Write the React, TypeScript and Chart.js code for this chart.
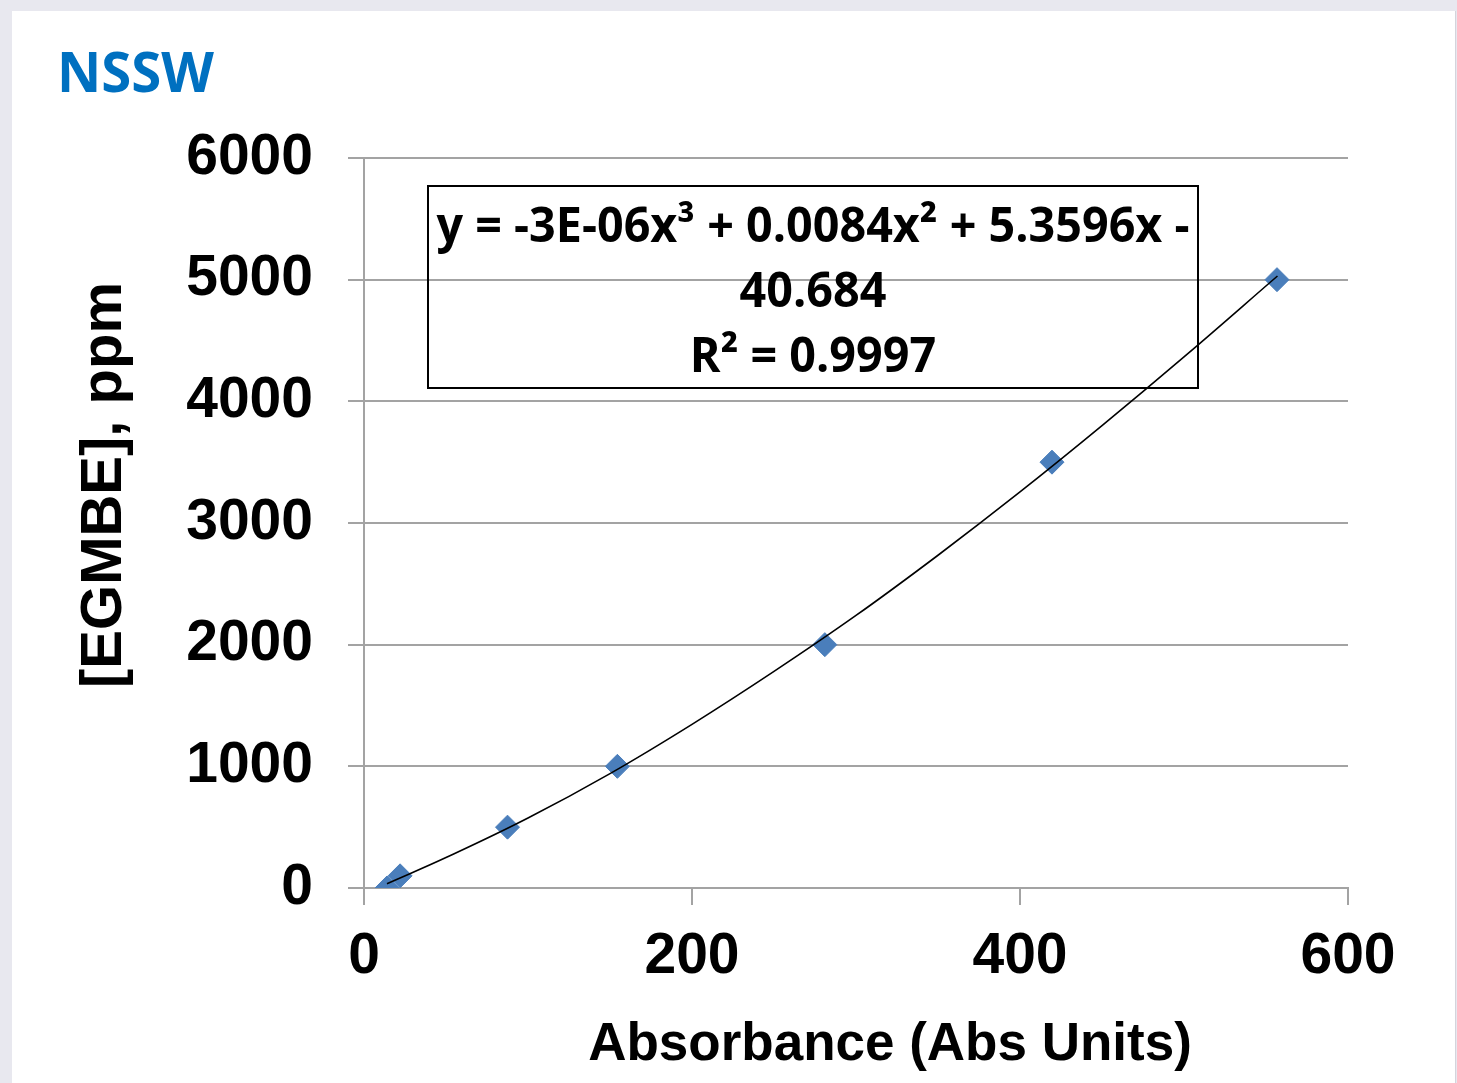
import { useEffect, useRef } from 'react';
import { Chart, registerables } from 'chart.js';

Chart.register(...registerables);

// ---- data ----
const absorbance = [14, 22, 87.5, 154.5, 281, 419.5, 556.7];
const egmbe = [0, 100, 500, 1000, 2000, 3500, 5000];
// polynomial trend line
const trendX = [14, 50, 100, 150, 200, 250, 300, 350, 400, 450, 500, 557];
const trendY = [35, 250, 575, 940, 1345, 1780, 2240, 2735, 3255, 3800, 4365, 5030];
const xTickValues = [0, 200, 400, 600];
const yTickValues = [0, 1000, 2000, 3000, 4000, 5000, 6000];
const chartTitle = 'NSSW';
const xAxisTitle = 'Absorbance (Abs Units)';
const yAxisTitle = '[EGMBE], ppm';
const equationLines = ['y = -3E-06x³ + 0.0084x² + 5.3596x -', '40.684', 'R² = 0.9997'];

const W = 1457;
const H = 1083;
const AXIS_FONT = '"Liberation Sans", Arial, sans-serif';
const CAL_FONT = '"Open Sans", "Noto Sans", sans-serif';
const GRID = '#a3a3a3';

function drawScaled(
  ctx: CanvasRenderingContext2D,
  text: string,
  x: number,
  y: number,
  sx: number,
  align: CanvasTextAlign
) {
  ctx.save();
  ctx.translate(x, y);
  ctx.scale(sx, 1);
  ctx.textAlign = align;
  ctx.textBaseline = 'alphabetic';
  ctx.fillText(text, 0, 0);
  ctx.restore();
}

const overlayPlugin = {
  id: 'overlay',
  afterDraw(chart: any) {
    const ctx: CanvasRenderingContext2D = chart.ctx;
    ctx.save();

    // Title
    ctx.fillStyle = '#0070c0';
    ctx.font = `bold 55px ${CAL_FONT}`;
    const tw = ctx.measureText(chartTitle).width;
    drawScaled(ctx, chartTitle, 57, 92, 157 / tw, 'left');

    // Axis titles
    ctx.fillStyle = '#000';
    ctx.font = `bold 53px ${AXIS_FONT}`;
    ctx.textAlign = 'center';
    ctx.textBaseline = 'alphabetic';
    ctx.fillText(xAxisTitle, 890, 1060);

    ctx.save();
    ctx.translate(121, 485);
    ctx.rotate(-Math.PI / 2);
    ctx.font = `bold 58px ${AXIS_FONT}`;
    ctx.fillText(yAxisTitle, 0, 0);
    ctx.restore();

    // Equation box
    ctx.strokeStyle = '#000';
    ctx.lineWidth = 2;
    ctx.strokeRect(428, 186, 770, 202);
    ctx.fillStyle = '#000';
    ctx.font = `bold 48px ${CAL_FONT}`;
    const w1 = ctx.measureText(equationLines[0]).width;
    const sx = 753 / w1;
    const baselines = [242, 307, 372];
    equationLines.forEach((line, i) => drawScaled(ctx, line, 813, baselines[i], sx, 'center'));

    ctx.restore();
  },
};

export default function App() {
  const ref = useRef<HTMLCanvasElement | null>(null);

  useEffect(() => {
    document.body.style.margin = '0';
    const canvas = ref.current;
    if (!canvas) return;
    const points = absorbance.map((x, i) => ({ x, y: egmbe[i] }));
    const trend = trendX.map((x, i) => ({ x, y: trendY[i] }));
    const chart = new Chart(canvas, {
      type: 'scatter',
      data: {
        datasets: [
          {
            label: 'Poly. trend',
            data: trend,
            showLine: true,
            borderColor: '#000',
            borderWidth: 1.6,
            pointRadius: 0,
            pointHoverRadius: 0,
            tension: 0.4,
            fill: false,
          } as any,
          {
            label: 'EGMBE',
            data: points,
            showLine: false,
            pointStyle: 'rectRot',
            pointRadius: 12,
            pointBackgroundColor: '#4a7ebb',
            pointBorderColor: '#4a7ebb',
            pointBorderWidth: 1,
          },
        ],
      },
      options: {
        responsive: false,
        animation: false,
        layout: { padding: { left: 0, top: 158, right: W - 1348, bottom: 0 } },
        plugins: {
          legend: { display: false },
          tooltip: { enabled: false },
          title: { display: false },
        },
        scales: {
          x: {
            type: 'linear',
            min: 0,
            max: 600,
            afterBuildTicks: (s: any) => {
              s.ticks = xTickValues.map((v) => ({ value: v }));
            },
            afterFit: (s: any) => {
              s.height = H - 888;
            },
            grid: {
              drawOnChartArea: false,
              drawTicks: true,
              tickLength: 17,
              color: GRID,
              lineWidth: 2,
            },
            border: { display: true, color: GRID, width: 2 },
            ticks: {
              color: '#000',
              padding: 18,
              font: { family: AXIS_FONT, size: 57, weight: 'bold' },
              maxRotation: 0,
              callback: (v: any) => String(v),
            },
          },
          y: {
            type: 'linear',
            min: 0,
            max: 6000,
            afterBuildTicks: (s: any) => {
              s.ticks = yTickValues.map((v) => ({ value: v }));
            },
            afterFit: (s: any) => {
              s.width = 364;
            },
            grid: {
              drawOnChartArea: true,
              drawTicks: true,
              tickLength: 16,
              color: GRID,
              lineWidth: 2,
            },
            border: { display: true, color: GRID, width: 2 },
            ticks: {
              color: '#000',
              padding: 35,
              font: { family: AXIS_FONT, size: 57, weight: 'bold' },
              callback: (v: any) => String(v),
            },
          },
        },
      },
      plugins: [overlayPlugin],
    });
    return () => chart.destroy();
  }, []);

  return (
    <div style={{ position: 'relative', width: W, height: H, background: '#e8e8ef', overflow: 'hidden' }}>
      <div
        style={{
          position: 'absolute',
          left: 12,
          top: 11,
          width: 1443,
          height: H - 11,
          background: '#ffffff',
          borderRight: '1px solid #d4d4dc',
        }}
      />
      <canvas ref={ref} width={W} height={H} style={{ position: 'absolute', left: 0, top: 0, width: W, height: H }} />
    </div>
  );
}
